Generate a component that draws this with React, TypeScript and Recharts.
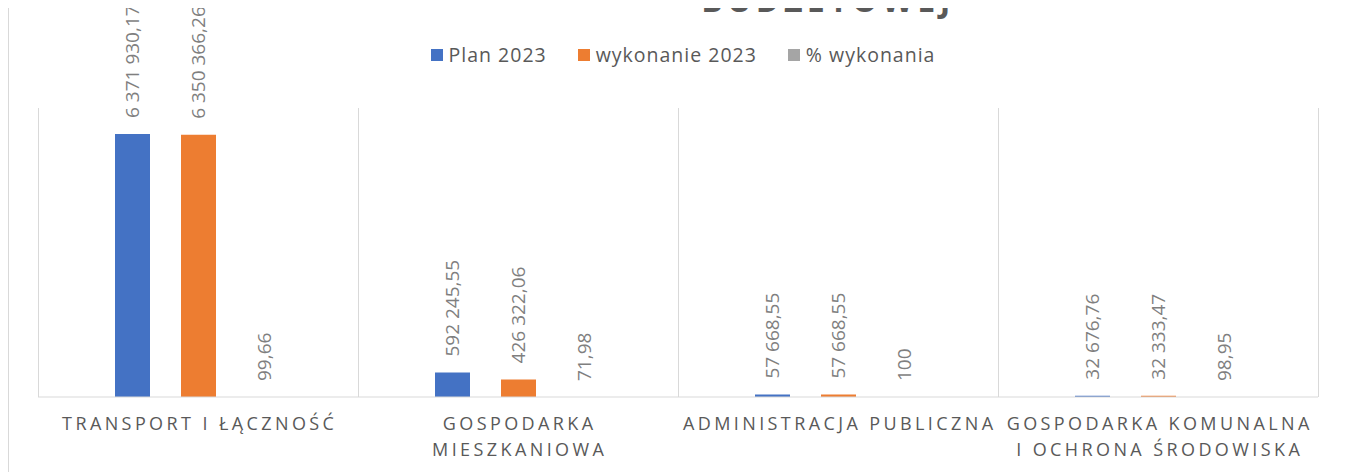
import React from 'react';
import { BarChart, Bar, XAxis, YAxis, CartesianGrid, Legend, LabelList } from 'recharts';

const categories = [
  'TRANSPORT I ŁĄCZNOŚĆ',
  'GOSPODARKA\nMIESZKANIOWA',
  'ADMINISTRACJA PUBLICZNA',
  'GOSPODARKA KOMUNALNA\nI OCHRONA ŚRODOWISKA',
];
const plan2023 = [6371930.17, 592245.55, 57668.55, 32676.76];
const wykonanie2023 = [6350366.26, 426322.06, 57668.55, 32333.47];
const procentWykonania = [99.66, 71.98, 100, 98.95];

const seriesNames = ['Plan 2023', 'wykonanie 2023', '% wykonania'];
const COLORS = ['#4472C4', '#ED7D31', '#A5A5A5'];
const title = 'BUDŻETOWEJ';

const data = categories.map((name, i) => ({
  name,
  plan: plan2023[i],
  wyk: wykonanie2023[i],
  proc: procentWykonania[i],
}));

const FONT = '"Open Sans", sans-serif';

function fmt(n: number) {
  const [int, dec] = n.toFixed(2).split('.');
  const spaced = int.replace(/\B(?=(\d{3})+(?!\d))/g, ' ');
  return dec === '00' ? spaced : `${spaced},${dec}`;
}

const ValueLabel = (props: any) => {
  const { x, y, width, value } = props;
  const cx = Number(x) + Number(width) / 2;
  const cy = Number(y) - 16;
  return (
    <text
      x={cx}
      y={cy}
      transform={`rotate(-90, ${cx}, ${cy})`}
      textAnchor="start"
      dominantBaseline="central"
      fill="#7f7f7f"
      fontSize={19}
      fontFamily={FONT}
    >
      {fmt(Number(value))}
    </text>
  );
};

const CategoryTick = (props: any) => {
  const { x, y, payload } = props;
  const lines = String(payload.value).split('\n');
  return (
    <g>
      {lines.map((line, i) => (
        <text
          key={i}
          x={x + 1.7}
          y={y + 26 + i * 26}
          textAnchor="middle"
          dominantBaseline="central"
          fill="#595959"
          fontSize={18}
          letterSpacing={3.4}
          fontFamily={FONT}
        >
          {line}
        </text>
      ))}
    </g>
  );
};

const LegendContent = (props: any) => {
  const items = [...(props.payload || [])].sort(
    (a: any, b: any) => seriesNames.indexOf(a.value) - seriesNames.indexOf(b.value)
  );
  return (
    <div style={{ display: 'flex', justifyContent: 'center', gap: 31, paddingLeft: 10, height: 24 }}>
      {items.map((item: any) => (
        <div key={item.value} style={{ display: 'flex', alignItems: 'center' }}>
          <span style={{ width: 12, height: 12, background: item.color, marginRight: 6, display: 'inline-block' }} />
          <span style={{ fontFamily: FONT, fontSize: 19.5, letterSpacing: 1, color: '#595959', lineHeight: '24px' }}>
            {item.value}
          </span>
        </div>
      ))}
    </div>
  );
};

export default function App() {
  const n = categories.length;
  return (
    <div
      style={{
        position: 'relative',
        width: 1338,
        height: 540,
        marginTop: -60,
        border: '1px solid #d9d9d9',
        background: '#fff',
      }}
    >
      <svg width={1338} height={100} style={{ position: 'absolute', left: 0, top: 0 }}>
        <text
          x={819}
          y={63}
          textAnchor="middle"
          fill="#595959"
          fontSize={32}
          fontWeight="bold"
          letterSpacing={4.4}
          fontFamily={FONT}
        >
          {title}
        </text>
      </svg>
      <BarChart
        width={1338}
        height={540}
        data={data}
        margin={{ top: 159, right: 29, bottom: 32, left: 29 }}
        barGap={31}
        barSize={35}
      >
        <CartesianGrid
          horizontal={false}
          stroke="#d9d9d9"
          verticalCoordinatesGenerator={({ offset }: any) =>
            Array.from({ length: n + 1 }, (_, i) => offset.left + (i * offset.width) / n + 0.5)
          }
        />
        <XAxis
          dataKey="name"
          height={60}
          interval={0}
          tickLine={false}
          tickSize={0}
          tickMargin={0}
          axisLine={{ stroke: '#d9d9d9' }}
          tick={<CategoryTick />}
        />
        <YAxis hide domain={[0, 7000000]} />
        <Legend
          verticalAlign="middle"
          align="center"
          layout="horizontal"
          wrapperStyle={{ top: 94 }}
          content={<LegendContent />}
        />
        <Bar dataKey="plan" name={seriesNames[0]} fill={COLORS[0]} isAnimationActive={false}>
          <LabelList dataKey="plan" content={<ValueLabel />} />
        </Bar>
        <Bar dataKey="wyk" name={seriesNames[1]} fill={COLORS[1]} isAnimationActive={false}>
          <LabelList dataKey="wyk" content={<ValueLabel />} />
        </Bar>
        <Bar dataKey="proc" name={seriesNames[2]} fill={COLORS[2]} isAnimationActive={false}>
          <LabelList dataKey="proc" content={<ValueLabel />} />
        </Bar>
      </BarChart>
    </div>
  );
}
